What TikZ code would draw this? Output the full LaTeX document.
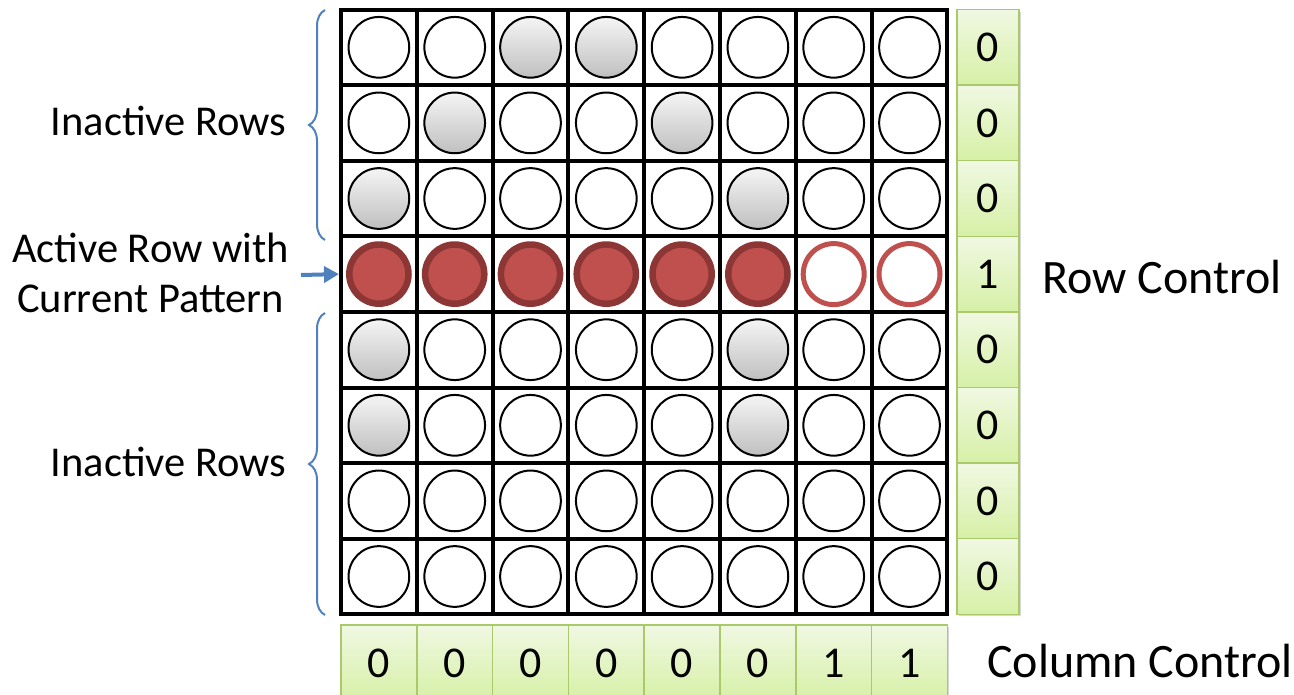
\documentclass[tikz,border=0pt]{standalone}
\usepackage{fontspec}
\setmainfont{Carlito}
\usetikzlibrary{arrows.meta,decorations.pathreplacing,shadows}
\definecolor{ledred}{HTML}{C0504D}
\definecolor{ledrim}{HTML}{8C3735}
\definecolor{braceblue}{HTML}{4F81BD}
\definecolor{boxtop}{HTML}{F0F8E2}
\definecolor{boxbot}{HTML}{D6F0A6}
\definecolor{boxedge}{HTML}{A9C96B}
\tikzset{
  cellbox/.style={draw=black, line width=4pt, minimum width=75.8pt, minimum height=75.6pt, inner sep=0pt},
  ledoff/.style={circle, draw=black, line width=2pt, fill=white, minimum size=60.7pt, inner sep=0pt},
  ledgray/.style={ledoff, top color=gray!8, bottom color=gray!50},
  ledon/.style={circle, draw=ledrim, line width=6.5pt, fill=ledred, minimum size=59.2pt, inner sep=0pt},
  ledring/.style={circle, draw=ledred, line width=5pt, fill=white, minimum size=61pt, inner sep=0pt},
  ctrlbox/.style={draw=boxedge, line width=1.5pt, top color=boxtop, bottom color=boxbot, inner sep=0pt,
    font=\fontsize{44}{48}\selectfont,
    drop shadow={shadow xshift=2pt, shadow yshift=-2pt, fill=black!35, opacity=0.45}},
  lbl/.style={font=\fontsize{42.5}{46}\selectfont, inner sep=0pt},
  lblr/.style={font=\fontsize{48}{52}\selectfont, inner sep=0pt},
  mybrace/.style={draw=braceblue, line width=2pt, decorate, decoration={brace, amplitude=16pt}},
  myarrow/.style={draw=braceblue, line width=4pt, -{Triangle[length=15pt,width=16pt]}},
}
\begin{document}
\begin{tikzpicture}[x=1pt,y=1pt]
\useasboundingbox (0,0) rectangle (1294,-694);
% grid cells and LEDs
\foreach \row [count=\i] in {{0,0,1,1,0,0,0,0},{0,1,0,0,1,0,0,0},{1,0,0,0,0,1,0,0},{2,2,2,2,2,2,3,3},{1,0,0,0,0,1,0,0},{1,0,0,0,0,1,0,0},{0,0,0,0,0,0,0,0},{0,0,0,0,0,0,0,0}} {
  \foreach \v [count=\j] in \row {
    \pgfmathsetmacro{\cx}{341+(\j-0.5)*75.8}
    \pgfmathsetmacro{\cy}{-(9.5+(\i-0.5)*75.6)}
    \node[cellbox] (c-\i-\j) at (\cx,\cy) {};
    \ifcase\v
      \node[ledoff] (l-\i-\j) at (\cx,\cy) {};
    \or
      \node[ledgray] (l-\i-\j) at (\cx,\cy) {};
    \or
      \node[ledon] (l-\i-\j) at (\cx,\cy) {};
    \or
      \node[ledring] (l-\i-\j) at (\cx,\cy) {};
    \fi
  }
}
% row control
\foreach \val [count=\i] in {0,0,0,1,0,0,0,0} {
  \pgfmathsetmacro{\cy}{-(9.5+(\i-0.5)*75.6)}
  \node[ctrlbox, minimum width=62pt, minimum height=75.6pt] (r-\i) at (988,\cy) {\val};
}
% column control
\foreach \val [count=\j] in {0,0,0,0,0,0,1,1} {
  \pgfmathsetmacro{\cx}{341+(\j-0.5)*75.8}
  \node[ctrlbox, minimum width=75.8pt, minimum height=76pt] (k-\j) at (\cx,-663) {\val};
}
% labels
\node[lbl, anchor=base] (inact1) at (168.5,-135.7) {Inactive Rows};
\node[lbl, anchor=base] (inact2) at (168.5,-476.7) {Inactive Rows};
\node[lbl, anchor=base] (act1) at (150.5,-262) {Active Row with};
\node[lbl, anchor=base] (act2) at (150.5,-312) {Current Pattern};
\node[lblr, anchor=base west] (rowctl) at (1042,-293) {Row Control};
\node[lblr, anchor=base west] (colctl) at (987,-677) {Column Control};
% braces
\coordinate (b1s) at (325,-240);
\coordinate (b1e) at (325,-10);
\coordinate (b2s) at (325,-615);
\coordinate (b2e) at (325,-313);
\draw[mybrace] (b1s) -- (b1e);
\draw[mybrace] (b2s) -- (b2e);
% arrow
\coordinate (arrtail) at (301,-275);
\draw[myarrow] (arrtail) -- (c-4-1.west);
\end{tikzpicture}
\end{document}
